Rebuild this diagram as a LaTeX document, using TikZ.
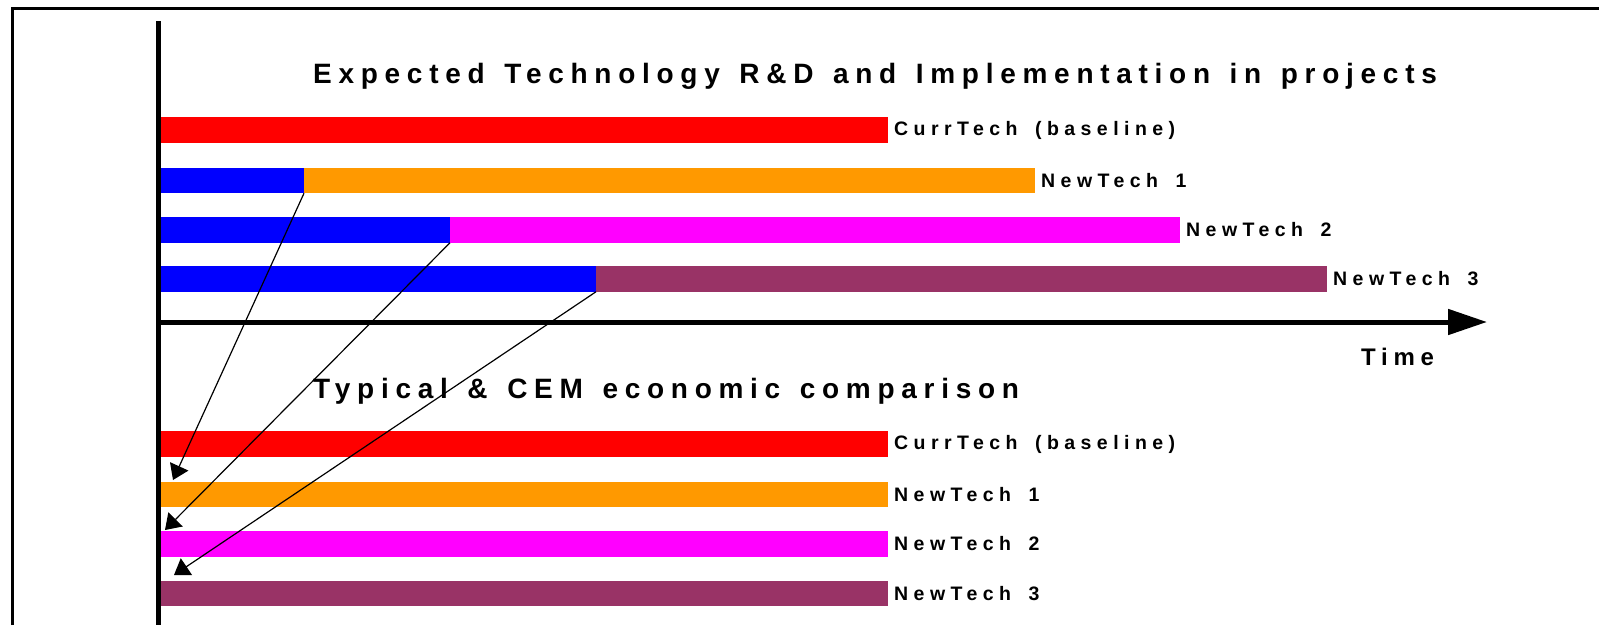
\documentclass[tikz,border=0pt]{standalone}
\usepackage{fontspec}
\setmainfont{Liberation Sans}
\newfontfamily\headfont[LetterSpace=24,WordSpace=1.35]{Liberation Sans}
\newfontfamily\barfont[LetterSpace=28,WordSpace=1.6]{Liberation Sans}
\usetikzlibrary{arrows.meta,positioning}
\definecolor{orangebar}{HTML}{FF9900}
\definecolor{pinkbar}{HTML}{FF00FF}
\definecolor{plumbar}{HTML}{993366}

\begin{document}
\begin{tikzpicture}[x=1pt, y=-1pt,
		bar/.style={inner sep=0pt, outer sep=0pt, minimum height=25.5pt, anchor=west},
		barlabel/.style={font=\barfont\bfseries\fontsize{19.5}{22}\selectfont, inner sep=0pt, right=6pt of #1},
		heading/.style={font=\headfont\bfseries\fontsize{28}{32}\selectfont, inner sep=0pt, anchor=west},
		link/.style={line width=1.2pt, -{Triangle[length=15pt,width=20pt]}}]
		\useasboundingbox (0,0) rectangle (1599,625);

		% frame and axes
		\draw[line width=3pt] (12,625) -- (12,8) -- (1599,8);
		\draw[line width=5pt] (158,21) -- (158,625);
		\draw[line width=5pt, -{Triangle[length=39pt,width=25pt]}] (158,322) -- (1487,322);
		\node[heading, font=\headfont\bfseries\fontsize{24}{28}\selectfont] (time) at (1361,357) {Time};

		% R&D and implementation
		\node[heading] (plan) at (313,76) {Expected Technology R\&D and Implementation in projects};
		\node[bar, fill=red, minimum width=727pt] (cur) at (161,130) {};
		\node[barlabel=cur] (curlbl) {CurrTech (baseline)};

		\node[bar, fill=blue, minimum width=143pt] (rd1) at (161,180.5) {};
		\node[bar, fill=orangebar, minimum width=731pt] (new1) at (rd1.east) {};
		\node[barlabel=new1] (new1lbl) {NewTech 1};

		\node[bar, fill=blue, minimum width=289pt] (rd2) at (161,230) {};
		\node[bar, fill=pinkbar, minimum width=730pt] (new2) at (rd2.east) {};
		\node[barlabel=new2] (new2lbl) {NewTech 2};

		\node[bar, fill=blue, minimum width=435pt] (rd3) at (161,279) {};
		\node[bar, fill=plumbar, minimum width=731pt] (new3) at (rd3.east) {};
		\node[barlabel=new3] (new3lbl) {NewTech 3};

		% economic comparison
		\node[heading] (cem) at (313,391) {Typical \& CEM economic comparison};
		\node[bar, fill=red, minimum width=727pt] (cemcur) at (161,444) {};
		\node[barlabel=cemcur] (cemcurlbl) {CurrTech (baseline)};
		\node[bar, fill=orangebar, minimum width=727pt] (cem1) at (161,494.5) {};
		\node[barlabel=cem1] (cem1lbl) {NewTech 1};
		\node[bar, fill=pinkbar, minimum width=727pt] (cem2) at (161,544) {};
		\node[barlabel=cem2] (cem2lbl) {NewTech 2};
		\node[bar, fill=plumbar, minimum width=727pt] (cem3) at (161,593.5) {};
		\node[barlabel=cem3] (cem3lbl) {NewTech 3};

		\coordinate (in1) at (173,480);
		\coordinate (in2) at (165,530);
		\coordinate (in3) at (174,575);
		\draw[link] (rd1.south east) -- (in1);
		\draw[link] (rd2.south east) -- (in2);
		\draw[link] (rd3.south east) -- (in3);
	\end{tikzpicture}
\end{document}
